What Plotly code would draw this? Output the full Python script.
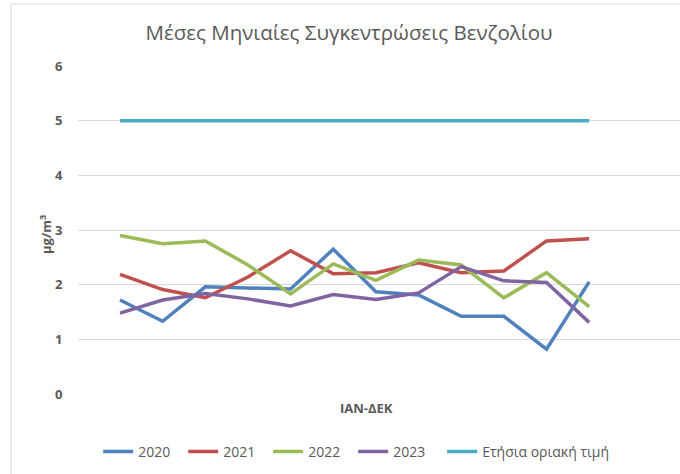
import plotly.graph_objects as go

months = ["ΙΑΝ", "ΦΕΒ", "ΜΑΡ", "ΑΠΡ", "ΜΑΪ", "ΙΟΥΝ", "ΙΟΥΛ", "ΑΥΓ", "ΣΕΠ", "ΟΚΤ", "ΝΟΕ", "ΔΕΚ"]
y2020 = [1.72, 1.33, 1.96, 1.94, 1.92, 2.65, 1.87, 1.81, 1.42, 1.42, 0.82, 2.05]
y2021 = [2.19, 1.91, 1.76, 2.14, 2.62, 2.20, 2.22, 2.40, 2.22, 2.25, 2.80, 2.84]
y2022 = [2.90, 2.75, 2.80, 2.36, 1.83, 2.38, 2.08, 2.45, 2.36, 1.76, 2.22, 1.60]
y2023 = [1.48, 1.72, 1.84, 1.74, 1.61, 1.82, 1.73, 1.85, 2.33, 2.07, 2.04, 1.31]
limit = [5] * 12
yticks = [0, 1, 2, 3, 4, 5, 6]

series = [
    ("2020", y2020, "#4F81BD", "legend"),
    ("2021", y2021, "#C0504D", "legend"),
    ("2022", y2022, "#9BBB59", "legend"),
    ("2023", y2023, "#8064A2", "legend"),
    ("Ετήσια οριακή τιμή", limit, "#4BACC6", "legend2"),
]

FONT = "Open Sans"
GRAY = "#595959"

fig = go.Figure()
xs = list(range(len(months)))
for name, vals, col, leg in series:
    fig.add_trace(go.Scatter(x=xs, y=vals, mode="lines", name=name, legend=leg,
                             line=dict(color=col, width=3.5)))

W, H = 680, 474
L, R, T, B = 78, 0, 66, 80
pw, ph = W - L - R, H - T - B

def px(x):
    return (x - L) / pw

def py(y):
    return (H - B - y) / ph

legend_common = dict(orientation="h", y=py(452), yanchor="middle", xanchor="left",
                     font=dict(size=14, color=GRAY, family=FONT), itemwidth=30,
                     bgcolor="rgba(0,0,0,0)")

fig.update_layout(
    width=W, height=H,
    margin=dict(l=L, r=R, t=T, b=B, autoexpand=False),
    paper_bgcolor="white", plot_bgcolor="white",
    font=dict(family=FONT, color=GRAY, size=12),
    title=dict(text="Μέσες Μηνιαίες Συγκεντρώσεις Βενζολίου", x=349 / W, xanchor="center",
               xref="container", y=1 - 33 / H, yanchor="middle", yref="container",
               font=dict(size=20.5, color=GRAY, family=FONT)),
    xaxis=dict(range=[-0.985, 13.13], showgrid=False, showticklabels=False, zeroline=False,
               showline=False, ticks=""),
    yaxis=dict(range=[0, 6], tickvals=yticks, gridcolor="#d9d9d9", gridwidth=1,
               zeroline=False, showline=False, ticks="outside", ticklen=12, tickcolor="rgba(0,0,0,0)",
               tickfont=dict(size=13, color=GRAY, family=FONT, weight="bold")),
    showlegend=True,
    legend=dict(x=px(103) - 0.008, entrywidth=40, entrywidthmode="pixels", **legend_common),
    legend2=dict(x=px(447) - 0.008, **legend_common),
)

fig.add_annotation(text="ΙΑΝ-ΔΕΚ", x=px(366), y=py(408), xref="paper", yref="paper",
                   showarrow=False, font=dict(size=13, color=GRAY, family=FONT, weight="bold"),
                   xanchor="center", yanchor="middle")
fig.add_annotation(text="μg/m<sup>3</sup>", x=px(45), y=py(235), xref="paper", yref="paper",
                   showarrow=False, textangle=-90, font=dict(size=13, color=GRAY, family=FONT, weight="bold"),
                   xanchor="center", yanchor="middle")

# chart border (left and top edges visible)
fig.add_shape(type="line", xref="paper", yref="paper", x0=px(11), x1=px(11), y0=py(480), y1=py(4),
              line=dict(color="#d9d9d9", width=1))
fig.add_shape(type="line", xref="paper", yref="paper", x0=px(11), x1=px(690), y0=py(4), y1=py(4),
              line=dict(color="#d9d9d9", width=1))

fig.write_html("out.html", post_script="document.body.style.margin='0';",
               config={"displayModeBar": False})
